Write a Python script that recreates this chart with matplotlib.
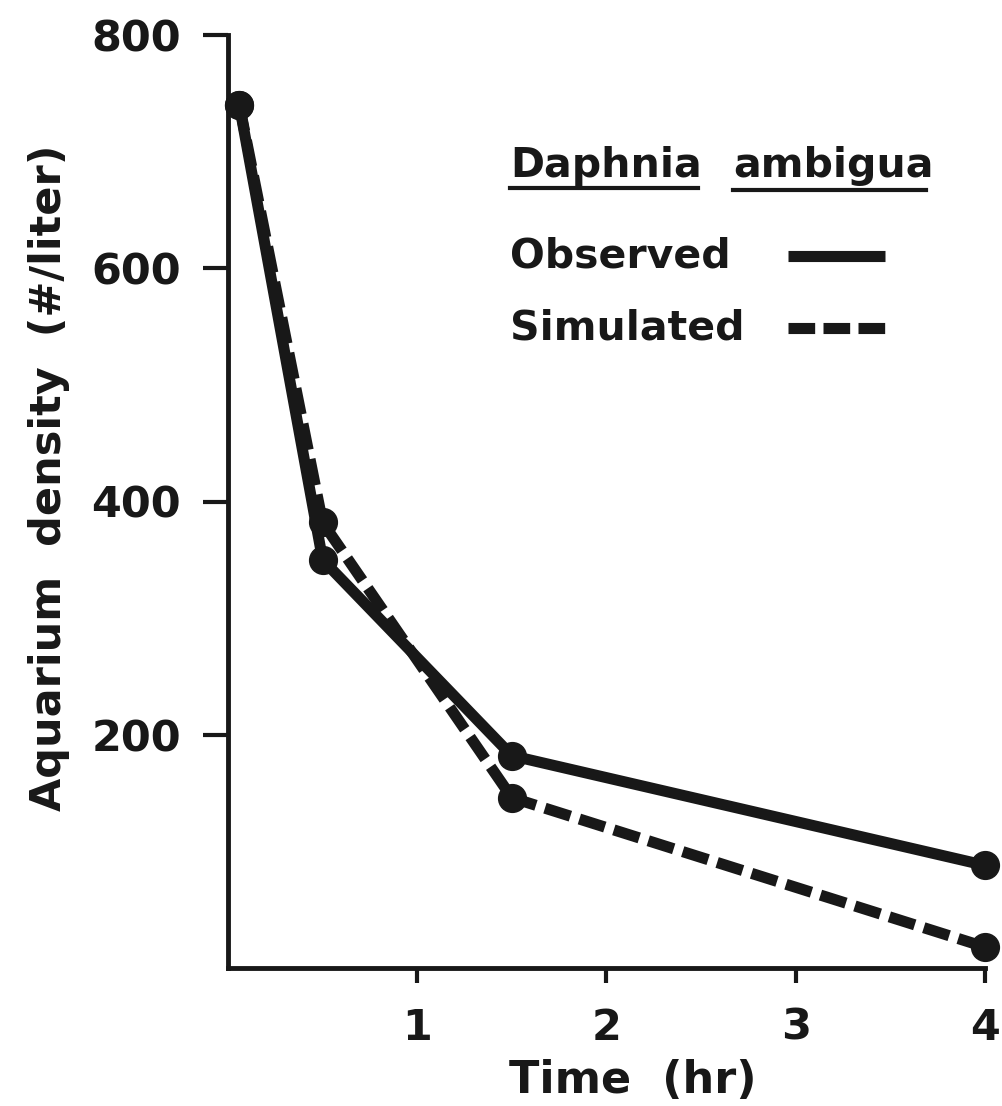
import matplotlib
matplotlib.use("Agg")
import matplotlib.pyplot as plt
from matplotlib.lines import Line2D

# Daphnia ambigua density in the aquarium over time
time_hr = [0.06, 0.5, 1.5, 4.0]
observed = [740, 350, 182, 88]
simulated = [740, 382, 146, 18]

x_ticks = [1, 2, 3, 4]
y_ticks = [200, 400, 600, 800]

ink = "#181818"
plt.rcParams["font.family"] = ["DejaVu Sans"]
plt.rcParams["font.weight"] = "bold"
plt.rcParams["axes.labelweight"] = "bold"

W, H = 1003, 1106
fig = plt.figure(figsize=(W / 100, H / 100), dpi=100)


def fx(px):
    return px / W


def fy(py):
    return 1 - py / H


ax = fig.add_axes([fx(228), fy(968), fx(985) - fx(228), fy(35) - fy(968)])

dash = (0, (2.4, 0.85))
ax.plot(time_hr, simulated, color=ink, lw=8, ls=dash, dash_capstyle="butt",
        marker="o", ms=20, clip_on=False, zorder=3)
ax.plot(time_hr, observed, color=ink, lw=8, solid_capstyle="round",
        marker="o", ms=20, clip_on=False, zorder=4)

ax.set_xlim(0, 4)
ax.set_ylim(0, 800)
ax.set_xticks(x_ticks)
ax.set_yticks(y_ticks)
for side in ["top", "right"]:
    ax.spines[side].set_visible(False)
for side in ["left", "bottom"]:
    ax.spines[side].set_linewidth(3.5)
    ax.spines[side].set_color(ink)

ax.tick_params(axis="y", length=18, width=3, pad=16, labelsize=31, colors=ink)
ax.tick_params(axis="x", length=11, width=3, pad=17, labelsize=31, colors=ink)

ax.set_xlabel("Time  (hr)", fontsize=32, color=ink)
ax.xaxis.set_label_coords(0.535, -0.097)
ax.set_ylabel("Aquarium  density  (#/liter)", fontsize=31, color=ink)
ax.yaxis.set_label_coords(-0.209, 0.525)

# legend block
fig.text(fx(510), fy(177), "Daphnia", fontsize=29.5, color=ink, va="baseline")
fig.text(fx(733), fy(177), "ambigua", fontsize=29.5, color=ink, va="baseline")
fig.add_artist(Line2D([fx(510), fx(698)], [fy(188)] * 2, lw=3, color=ink))
fig.add_artist(Line2D([fx(733), fx(926)], [fy(190)] * 2, lw=3, color=ink))

fig.text(fx(510), fy(267), "Observed", fontsize=29.5, color=ink, va="baseline")
fig.text(fx(510), fy(340), "Simulated", fontsize=29.5, color=ink, va="baseline")
fig.add_artist(Line2D([fx(788), fx(885)], [fy(256)] * 2, lw=8, color=ink,
                      solid_capstyle="butt"))
fig.add_artist(Line2D([fx(788), fx(885)], [fy(328)] * 2, lw=8, color=ink,
                      ls=(0, (2.4, 0.75)), dash_capstyle="butt"))

fig.savefig("out.png", dpi=100, facecolor="white")
